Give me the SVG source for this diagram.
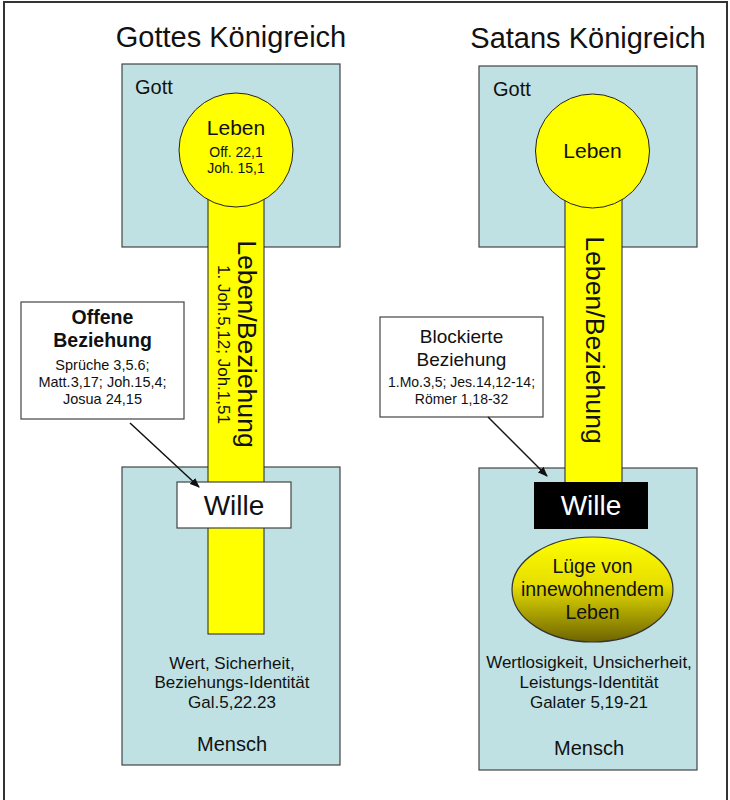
<svg xmlns="http://www.w3.org/2000/svg" width="730" height="800" viewBox="0 0 730 800">
<style>
text{font-family:"Liberation Sans",Arial,sans-serif;fill:#111}
.area{fill:#bfe1e4;stroke:#444;stroke-width:1.2}
.bar{fill:#ffff00;stroke:#222;stroke-width:1}
.sun{fill:#ffff00;stroke:#222;stroke-width:1}
.note{fill:#fff;stroke:#444;stroke-width:1.2}
.title{font-size:29px}
.c{text-anchor:middle}
.conn{stroke:#111;stroke-width:1.5;fill:none;marker-end:url(#ah)}
</style>
<defs>
<marker id="ah" markerWidth="10" markerHeight="8" refX="9" refY="4" orient="auto" markerUnits="userSpaceOnUse">
<path d="M0,0 L10,4 L0,8 Z" fill="#111"/>
</marker>
<linearGradient id="lg" x1="0" y1="0" x2="0" y2="1">
<stop offset="0" stop-color="#ffff00"/>
<stop offset="0.45" stop-color="#e6de00"/>
<stop offset="1" stop-color="#6e6400"/>
</linearGradient>
</defs>
<rect x="0" y="0" width="730" height="800" fill="#fff"/>
<rect x="4" y="2" width="723" height="820" fill="none" stroke="#333" stroke-width="2"/>

<g id="left-kingdom">
<text class="title c" x="231" y="47">Gottes Königreich</text>
<g id="left-gott">
<rect class="area" x="122" y="64" width="218" height="183"/>
<text x="135" y="94" font-size="20">Gott</text>
</g>
<g id="left-mensch">
<rect class="area" x="122" y="467" width="218" height="298"/>
<text class="c" x="232" y="669" font-size="17">Wert, Sicherheit,</text>
<text class="c" x="232" y="688" font-size="17">Beziehungs-Identität</text>
<text class="c" x="232" y="708" font-size="17">Gal.5,22.23</text>
<text class="c" x="232" y="751" font-size="20">Mensch</text>
</g>
<g id="left-bar">
<rect class="bar" x="208" y="190" width="56" height="444"/>
<text class="c" transform="translate(238,344) rotate(90)" font-size="26.7">Leben/Beziehung</text>
<text class="c" transform="translate(218,344.5) rotate(90)" font-size="17">1. Joh.5,12; Joh.1,51</text>
</g>
<g id="left-leben">
<circle class="sun" cx="236" cy="150" r="57"/>
<text class="c" x="236" y="135" font-size="21">Leben</text>
<text class="c" x="236" y="157" font-size="14">Off. 22,1</text>
<text class="c" x="236" y="173" font-size="14">Joh. 15,1</text>
</g>
<g id="left-wille">
<rect class="note" x="177" y="482" width="114" height="46"/>
<text class="c" x="234" y="515" font-size="28">Wille</text>
</g>
<g id="left-note">
<rect class="note" x="21" y="302" width="163" height="117"/>
<text class="c" x="102.5" y="324" font-size="19.5" font-weight="bold">Offene</text>
<text class="c" x="102.5" y="347" font-size="19.5" font-weight="bold">Beziehung</text>
<text class="c" x="102.5" y="370" font-size="14.5">Sprüche 3,5.6;</text>
<text class="c" x="102.5" y="387" font-size="14.5">Matt.3,17; Joh.15,4;</text>
<text class="c" x="102.5" y="404" font-size="14.5">Josua 24,15</text>
</g>
</g>

<g id="right-kingdom">
<text class="title c" x="588" y="48">Satans Königreich</text>
<g id="right-gott">
<rect class="area" x="479" y="66" width="218" height="181"/>
<text x="493" y="96" font-size="20">Gott</text>
</g>
<g id="right-mensch">
<rect class="area" x="479" y="468" width="218" height="302"/>
<text class="c" x="589" y="668" font-size="17">Wertlosigkeit, Unsicherheit,</text>
<text class="c" x="589" y="688" font-size="17">Leistungs-Identität</text>
<text class="c" x="589" y="708" font-size="17">Galater 5,19-21</text>
<text class="c" x="589" y="755" font-size="20">Mensch</text>
</g>
<g id="right-bar">
<rect class="bar" x="565" y="190" width="57" height="300"/>
<text class="c" transform="translate(586,340) rotate(90)" font-size="26.7">Leben/Beziehung</text>
</g>
<g id="right-leben">
<circle class="sun" cx="592.5" cy="151" r="57"/>
<text class="c" x="592.5" y="158" font-size="21">Leben</text>
</g>
<g id="right-wille">
<rect x="534" y="482" width="114" height="47" fill="#000"/>
<text class="c" x="591" y="515" font-size="28" style="fill:#fff">Wille</text>
</g>
<g id="right-luege">
<ellipse cx="592.5" cy="589.5" rx="80.5" ry="52.5" fill="url(#lg)" stroke="#333" stroke-width="1.2"/>
<text class="c" x="592.5" y="573" font-size="19.5">Lüge von</text>
<text class="c" x="592.5" y="596" font-size="19.5">innewohnendem</text>
<text class="c" x="592.5" y="619" font-size="19.5">Leben</text>
</g>
<g id="right-note">
<rect class="note" x="380" y="317" width="163" height="100"/>
<text class="c" x="461.5" y="343" font-size="19">Blockierte</text>
<text class="c" x="461.5" y="366" font-size="19">Beziehung</text>
<text class="c" x="461.5" y="387" font-size="14">1.Mo.3,5; Jes.14,12-14;</text>
<text class="c" x="461.5" y="404" font-size="14">Römer 1,18-32</text>
</g>
</g>

<g id="connectors">
<line class="conn" x1="130" y1="423" x2="199" y2="487"/>
<line class="conn" x1="488" y1="417" x2="547" y2="476"/>
</g>
</svg>
